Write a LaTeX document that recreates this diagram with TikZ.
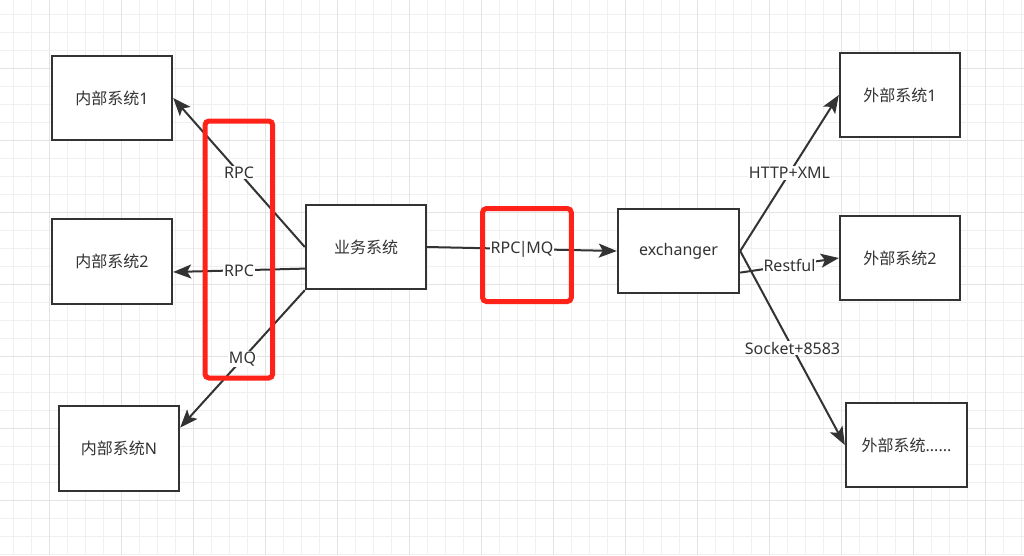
\documentclass[tikz,border=0pt]{standalone}
\usepackage{fontspec}
\setmainfont{Noto Sans}
\newfontfamily\cjk{Noto Sans CJK SC}
\usetikzlibrary{arrows.meta,calc}
\definecolor{gridminor}{HTML}{F0F0F0}
\definecolor{gridmajor}{HTML}{E3E3E3}
\definecolor{ink}{HTML}{333333}
\definecolor{redmark}{HTML}{FF2218}
\begin{document}
\begin{tikzpicture}[x=1pt,y=-1pt,
  box/.style={draw=ink, line width=2.4pt, fill=white, minimum width=120pt, minimum height=84pt, inner sep=0pt, text=ink, font=\fontsize{16}{19}\selectfont},
  conn/.style={draw=ink, line width=2pt, -{Stealth[length=18pt,width=14pt,inset=4pt]}},
  lbl/.style={fill=white, inner sep=1pt, text=ink, font=\fontsize{16}{19}\selectfont},
  redbox/.style={draw=redmark, line width=5pt, rounded corners=4pt}]
\useasboundingbox (0,0) rectangle (1024,555);
\fill[white] (0,0) rectangle (1024,555);
% grid
\foreach \i in {0,...,56} \draw[gridminor, line width=1pt] ({13.5+18*\i},0) -- ({13.5+18*\i},555);
\foreach \j in {0,...,30} \draw[gridminor, line width=1pt] (0,{14.3+18*\j}) -- (1024,{14.3+18*\j});
\foreach \i in {0,...,13} \draw[gridmajor, line width=1pt] ({49.5+72*\i},0) -- ({49.5+72*\i},555);
\foreach \j in {1,...,7} \draw[gridmajor, line width=1pt] (0,{-3.7+72*\j}) -- (1024,{-3.7+72*\j});
% nodes
\node[box] (in1) at (112,98) {{\cjk 内部系统}1};
\node[box, minimum height=85pt] (in2) at (112,261.5) {{\cjk 内部系统}2};
\node[box, minimum height=85pt] (inN) at (119,448.5) {{\cjk 内部系统}N};
\node[box] (biz) at (366,247) {{\cjk 业务系统}};
\node[box, minimum width=121pt] (ex) at (678.5,251) {exchanger};
\node[box] (out1) at (900,95) {{\cjk 外部系统}1};
\node[box] (out2) at (900,258) {{\cjk 外部系统}2};
\node[box, minimum width=121pt] (out3) at (906.5,445) {{\cjk 外部系统}......};
% connectors
\draw[conn] (biz.west) -- node[lbl]{RPC} (in1.east);
\draw[conn] ($(biz.north west)!0.75!(biz.south west)$) -- node[lbl]{RPC} ($(in2.north east)!0.62!(in2.south east)$);
\draw[conn] (biz.south west) -- node[lbl]{MQ} ($(inN.north east)!0.26!(inN.south east)$);
\draw[conn] (biz.east) -- node[lbl]{RPC\kern-1.5pt|\kern-1.5pt MQ} (ex.west);
\draw[conn] (ex.east) -- node[lbl]{HTTP+XML} (out1.west);
\draw[conn] ($(ex.north east)!0.75!(ex.south east)$) -- node[lbl]{Restful} (out2.west);
\draw[conn] (ex.east) -- node[lbl]{Socket+8583} (out3.west);
% red highlight boxes
\draw[redbox] (205,121) rectangle (272.7,378);
\draw[redbox] (482.5,208.5) rectangle (571.3,301.5);
\end{tikzpicture}
\end{document}
